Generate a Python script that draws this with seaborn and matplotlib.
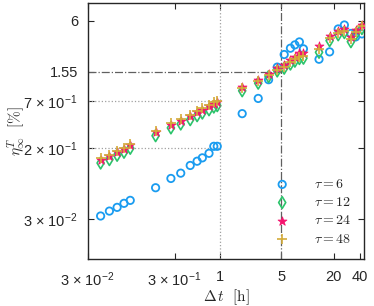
import numpy as np
import pandas as pd
import seaborn as sns
import matplotlib
matplotlib.use("Agg")
import matplotlib.pyplot as plt
from matplotlib.ticker import FixedLocator, FixedFormatter, NullLocator

# data (dt in hours, eta in %)
dt = [0.042, 0.053, 0.065, 0.078, 0.092, 0.18, 0.27, 0.35, 0.45, 0.54, 0.62, 0.74, 0.84, 0.92,
      1.78, 2.72, 3.58, 4.5, 5.41, 6.38, 7.18, 8.09, 9.0, 13.6, 18.0, 22.6, 26.6, 31.6, 35.8, 42.3]
eta_tau6 = [0.0328, 0.0374, 0.0413, 0.046, 0.0498, 0.0698, 0.0894, 0.103, 0.1265, 0.1417, 0.155, 0.175, 0.211, 0.211,
            0.505, 0.758, 1.25, 1.75, 2.45, 2.9, 3.17, 3.43, 2.85, 2.16, 2.63, 4.85, 5.39, 4.3, 3.92, 4.25]
eta_tau12 = [0.135, 0.148, 0.166, 0.180, 0.200, 0.280, 0.345, 0.383, 0.430, 0.478, 0.513, 0.560, 0.602, 0.625,
             0.93, 1.14, 1.36, 1.58, 1.70, 1.90, 2.05, 2.20, 2.22, 2.60, 3.55, 4.15, 4.40, 3.45, 4.20, 4.90]
eta_tau24 = [0.148, 0.162, 0.182, 0.197, 0.219, 0.307, 0.377, 0.419, 0.47, 0.523, 0.561, 0.613, 0.658, 0.682,
             1.03, 1.25, 1.46, 1.70, 1.86, 2.12, 2.32, 2.54, 2.58, 3.08, 4.02, 4.64, 4.81, 3.95, 4.72, 5.39]
eta_tau48 = [0.153, 0.168, 0.188, 0.204, 0.227, 0.318, 0.39, 0.433, 0.486, 0.54, 0.58, 0.633, 0.68, 0.705,
             1.00, 1.20, 1.42, 1.62, 1.75, 1.98, 2.15, 2.32, 2.38, 2.85, 3.8, 4.4, 4.6, 3.7, 4.5, 5.2]

labels = [r"$\tau = 6$", r"$\tau = 12$", r"$\tau = 24$", r"$\tau = 48$"]

xticks = [0.03, 0.3, 1, 5, 20, 40]
xticklabels = [r"3 × 10$^{\mathregular{-2}}$", r"3 × 10$^{\mathregular{-1}}$", "1", "5", "20", "40"]
yticks = [0.03, 0.2, 0.7, 1.55, 6]
yticklabels = [r"3 × 10$^{\mathregular{-2}}$", r"2 × 10$^{\mathregular{-1}}$",
               r"7 × 10$^{\mathregular{-1}}$", "1.55", "6"]

# guide lines
x_dot, y_dots = 1, [0.2, 0.7]
x_dash, y_dash = 5, 1.55

sns.set_style("ticks")
plt.rcParams["font.family"] = ["Liberation Sans", "DejaVu Sans"]
plt.rcParams["mathtext.fontset"] = "cm"

fig = plt.figure(figsize=(3.74, 3.06), dpi=100)
ax = fig.add_axes([0.235, 0.1536, 0.738, 0.8366])
ax.set_xscale("log")
ax.set_yscale("log")
xlim = (0.03, 44.6)
ax.set_xlim(*xlim)
ax.set_ylim(0.0104, 9.7)

# step 1: guide lines
for yd in y_dots:
    ax.plot([xlim[0], x_dot], [yd, yd], ls=":", color="#a0a0a0", lw=0.9, zorder=1)
ax.axvline(x_dot, ls=":", color="#a0a0a0", lw=0.9, zorder=1)
ax.plot([xlim[0], x_dash], [y_dash, y_dash], ls="-.", color="#606060", lw=0.9, zorder=1)
ax.axvline(x_dash, ls="-.", color="#606060", lw=0.9, zorder=1)

# step 2: series
sns.scatterplot(x=dt, y=eta_tau6, marker="o", s=28, color="#1a9cf0", facecolor="none",
                edgecolor="#1a9cf0", linewidth=1.3, label=labels[0], ax=ax, zorder=3)
sns.scatterplot(x=dt, y=eta_tau12, marker="d", s=36, color="#2bc46b", facecolor="none",
                edgecolor="#2bc46b", linewidth=1.2, label=labels[1], ax=ax, zorder=3)
sns.scatterplot(x=dt, y=eta_tau24, marker="*", s=45, color="#f5146e", edgecolor="#f5146e",
                linewidth=0.6, label=labels[2], ax=ax, zorder=3)
sns.scatterplot(x=dt, y=eta_tau48, marker="+", s=45, color="#d4ac3a",
                linewidth=1.2, label=labels[3], ax=ax, zorder=4)

# step 3: ticks
ax.xaxis.set_major_locator(FixedLocator(xticks))
ax.xaxis.set_major_formatter(FixedFormatter(xticklabels))
ax.xaxis.set_minor_locator(NullLocator())
ax.yaxis.set_major_locator(FixedLocator(yticks))
ax.yaxis.set_major_formatter(FixedFormatter(yticklabels))
ax.yaxis.set_minor_locator(NullLocator())
ax.tick_params(which="both", direction="in", top=True, right=True, length=4, width=0.8,
               labelsize=10.5, colors="#262626", pad=7)
ax.tick_params(axis="x", pad=8)
for sp in ax.spines.values():
    sp.set_linewidth(1.0)
    sp.set_color("#262626")
    sp.set_visible(True)

# step 4: labels + legend
ax.set_xlabel(r"$\Delta\,t\ \ [\mathrm{h}]$", fontsize=11, color="#262626", labelpad=-1)
ax.set_ylabel(r"$\eta^{T}_{\infty}\ \ [\%]$", fontsize=11, color="#262626", labelpad=-3)
ax.legend(loc="lower right", bbox_to_anchor=(0.985, 0.02), frameon=False, fontsize=10,
          handletextpad=1.3, labelspacing=0.3, borderaxespad=0.2)

fig.savefig("out.png", dpi=100)
